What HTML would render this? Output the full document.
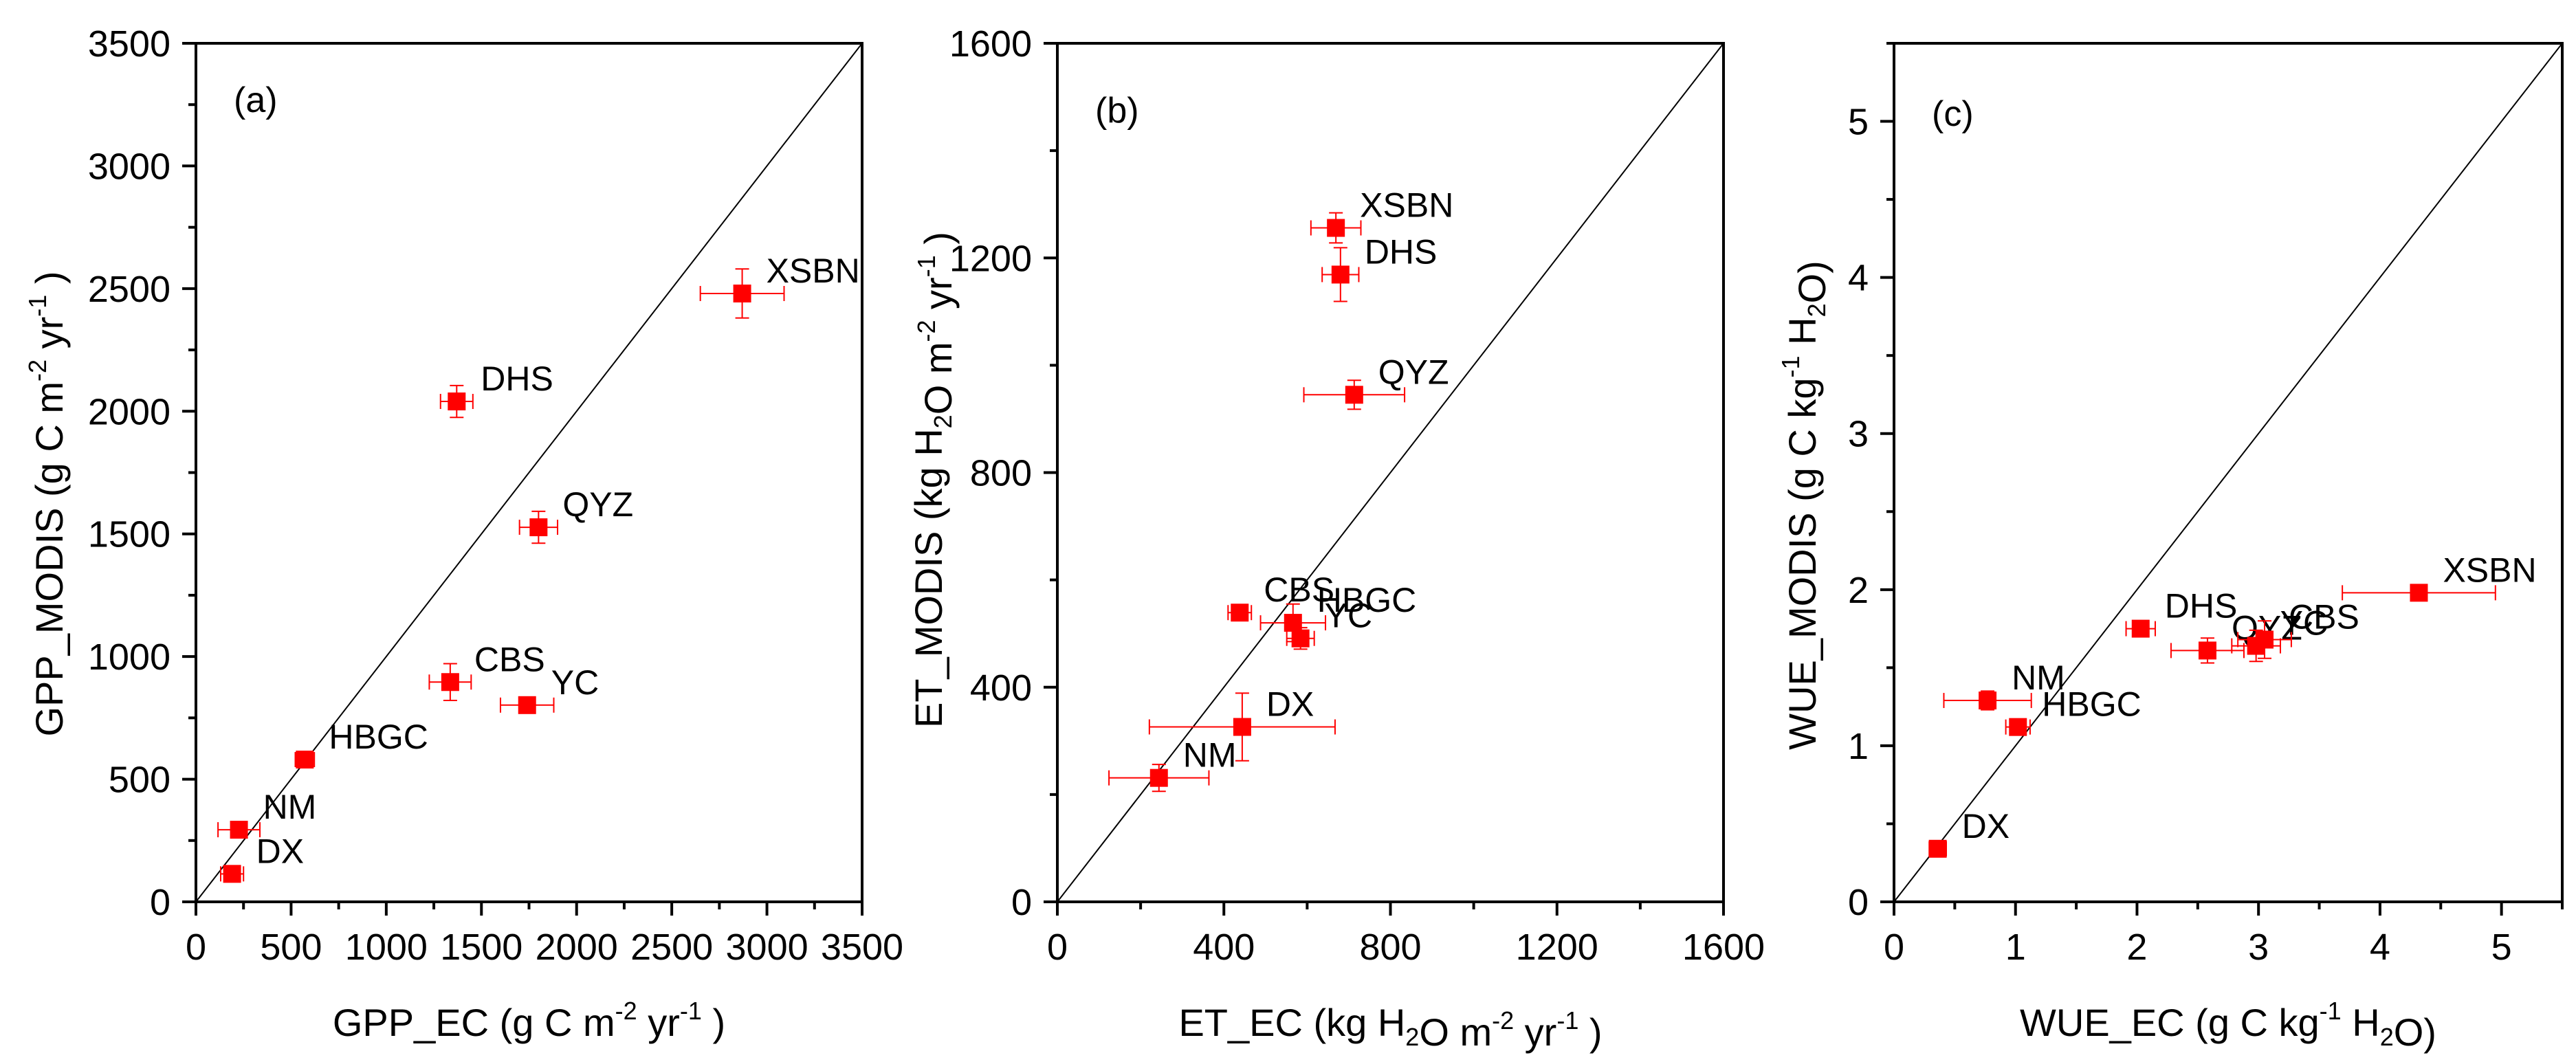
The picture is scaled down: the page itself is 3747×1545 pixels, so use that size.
<!DOCTYPE html>
<html><head><meta charset="utf-8"><style>
html,body{margin:0;padding:0;background:#fff;}
svg{display:block;font-family:"Liberation Sans",Arial,sans-serif;}
</style></head><body>
<svg id="chart" width="3747" height="1545" viewBox="0 0 3747 1545" xmlns="http://www.w3.org/2000/svg"></svg>
<script>
// Panel (a) GPP
const sites = ["XSBN","DHS","QYZ","CBS","YC","HBGC","NM","DX"];
const gppEC = [2870,1370,1800,1336,1740,572,226,190];
const gppECerr = [220,85,100,110,140,50,110,60];
const gppMODIS = [2480,2040,1527,896,802,580,294,114];
const gppMODISerr = [100,65,65,75,30,20,25,20];
const gppTicks = [0,500,1000,1500,2000,2500,3000,3500];
// Panel (b) ET
const sitesB = ["XSBN","DHS","QYZ","CBS","HBGC","YC","DX","NM"];
const etEC = [669,680,713,438,566,584,444,244];
const etECerr = [60,44,121,28,78,33,223,120];
const etMODIS = [1256,1169,945,539,520,491,326,231];
const etMODISerr = [28,50,27,10,35,20,63,25];
const etTicks = [0,400,800,1200,1600];
// Panel (c) WUE
const sitesC = ["XSBN","DHS","QYZ","YC","CBS","NM","HBGC","DX"];
const wueEC = [4.32,2.03,2.58,2.98,3.05,0.77,1.02,0.36];
const wueECerr = [0.63,0.12,0.3,0.2,0.22,0.36,0.1,0.07];
const wueMODIS = [1.98,1.75,1.61,1.64,1.68,1.29,1.12,0.34];
const wueMODISerr = [0.05,0.03,0.08,0.1,0.12,0.06,0.04,0.03];
const wueTicks = [0,1,2,3,4,5];

const NS="http://www.w3.org/2000/svg";
const svg=document.getElementById('chart');
function mk(tag,attrs,parent){const e=document.createElementNS(NS,tag);for(const k in attrs)e.setAttribute(k,attrs[k]);(parent||svg).appendChild(e);return e;}

function panel(cfg){
  const g=mk('g',{});
  
  
  const L=cfg.left,R=cfg.right,T=63,B=1312;
  const sx=v=>L+(v-0)/cfg.max*(R-L);
  const sy=v=>B-(v-0)/cfg.max*(B-T);
  const d=mk('line',{x1:sx(0),y1:sy(0),x2:sx(cfg.max),y2:sy(cfg.max),stroke:'#000','stroke-width':2},g);
  
  
  const ticks=cfg.ticks;
  const step=ticks[1]-ticks[0];
  for(let i=0;i<ticks.length;i++){
    const v=ticks[i];
    mk('line',{x1:L-20,x2:L,y1:sy(v),y2:sy(v),stroke:'#000','stroke-width':4},g);
    mk('line',{x1:sx(v),x2:sx(v),y1:B,y2:B+20,stroke:'#000','stroke-width':4},g);
    const mv=v+step/2;
    if(mv<=cfg.max){
      mk('line',{x1:L-11,x2:L,y1:sy(mv),y2:sy(mv),stroke:'#000','stroke-width':4},g);
      mk('line',{x1:sx(mv),x2:sx(mv),y1:B,y2:B+11,stroke:'#000','stroke-width':4},g);
    }
    const yl=mk('text',{x:L-37,y:sy(v)+19,'text-anchor':'end','font-size':54},g);
    yl.textContent=v;
    
    
    const xl=mk('text',{x:sx(v),y:1396,'text-anchor':'middle','font-size':54},g);
    xl.textContent=v;
    
    
  }
  const fr=mk('rect',{x:L,y:T,width:R-L,height:B-T,fill:'none',stroke:'#000','stroke-width':4},g);
  
  
  for(let i=0;i<cfg.xs.length;i++){
    const pg=mk('g',{},g);
    
    
    const x=sx(cfg.xs[i]),y=sy(cfg.ys[i]);
    const x1=sx(cfg.xs[i]-cfg.xe[i]),x2=sx(cfg.xs[i]+cfg.xe[i]);
    const y1=sy(cfg.ys[i]-cfg.ye[i]),y2=sy(cfg.ys[i]+cfg.ye[i]);
    const st={stroke:'#ff0000','stroke-width':2};
    mk('line',Object.assign({x1:x1,x2:x2,y1:y,y2:y},st),pg);
    mk('line',Object.assign({x1:x1,x2:x1,y1:y-11,y2:y+11},st),pg);
    mk('line',Object.assign({x1:x2,x2:x2,y1:y-11,y2:y+11},st),pg);
    mk('line',Object.assign({x1:x,x2:x,y1:y1,y2:y2},st),pg);
    mk('line',Object.assign({x1:x-10,x2:x+10,y1:y1,y2:y1},st),pg);
    mk('line',Object.assign({x1:x-10,x2:x+10,y1:y2,y2:y2},st),pg);
    mk('rect',{x:x-13,y:y-13,width:26,height:26,fill:'#ff0000'},pg);
    const t=mk('text',{x:x+35,y:y-16,'font-size':50},pg);
    t.textContent=cfg.labels[i];
  }
  const pl=mk('text',{x:L+55,y:cfg.tagY,'font-size':52},g);
  pl.textContent=cfg.tag;
  
  
  const xt=mk('text',{x:(L+R)/2,y:1507,'text-anchor':'middle','font-size':56},g);
  xt.innerHTML=cfg.xtitle;
  
  
  const yt=mk('text',{x:0,y:0,'text-anchor':'middle','font-size':56,transform:'translate('+(cfg.ytx+20)+','+cfg.ytc+') rotate(-90)'},g);
  yt.innerHTML=cfg.ytitle;
  
  
}
const sup=s=>'<tspan dy="-24" font-size="36">'+s+'</tspan><tspan dy="24"> </tspan>';
const sub=s=>'<tspan dy="14" font-size="36">'+s+'</tspan><tspan dy="-14"></tspan>';
panel({name:'panel-a-gpp',left:285,right:1254,max:3500,ticks:gppTicks,xs:gppEC,xe:gppECerr,ys:gppMODIS,ye:gppMODISerr,labels:sites,tag:'(a)',tagY:163,
  xtitle:'GPP_EC (g C m'+sup('-2')+'yr'+sup('-1')+')',ytitle:'GPP_MODIS (g C m'+sup('-2')+'yr'+sup('-1')+')',ytx:71,ytc:733});
panel({name:'panel-b-et',left:1538,right:2507,max:1600,ticks:etTicks,xs:etEC,xe:etECerr,ys:etMODIS,ye:etMODISerr,labels:sitesB,tag:'(b)',tagY:178,
  xtitle:'ET_EC (kg H'+sub('2')+'O m'+sup('-2')+'yr'+sup('-1')+')',ytitle:'ET_MODIS (kg H'+sub('2')+'O m'+sup('-2')+'yr'+sup('-1')+')',ytx:1350,ytc:698});
panel({name:'panel-c-wue',left:2755,right:3727,max:5.5,ticks:wueTicks,xs:wueEC,xe:wueECerr,ys:wueMODIS,ye:wueMODISerr,labels:sitesC,tag:'(c)',tagY:183,
  xtitle:'WUE_EC (g C kg'+sup('-1')+'H'+sub('2')+'O)',ytitle:'WUE_MODIS (g C kg'+sup('-1')+'H'+sub('2')+'O)',ytx:2621,ytc:735});
</script>
</body></html>
